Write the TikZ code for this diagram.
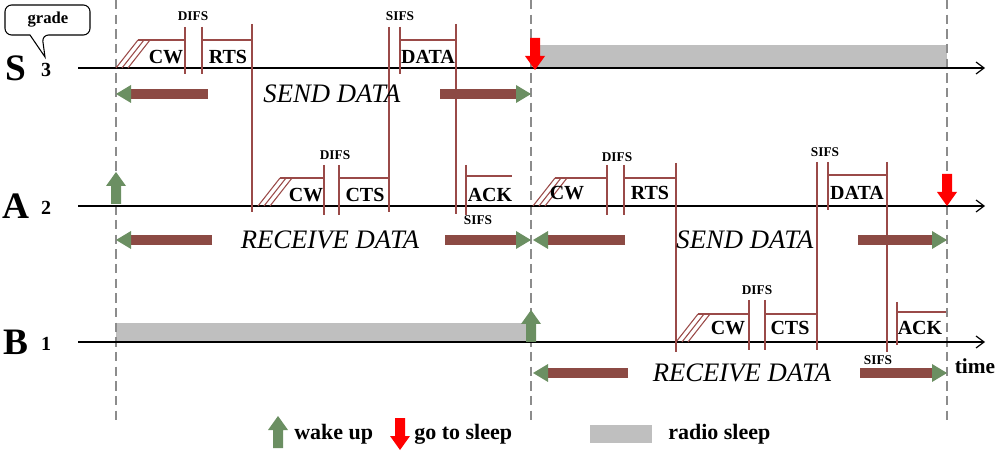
\documentclass[tikz,border=0pt]{standalone}
\usepackage{fontspec}
\setmainfont{Liberation Serif}
\usetikzlibrary{arrows.meta}
\begin{document}
\begin{tikzpicture}[x=0.75pt,y=-0.75pt,
  ax/.style={line width=0.9pt,-{Straight Barb[length=6pt,width=9pt]}},
  dsh/.style={draw=gray!90,line width=2.2pt,dash pattern=on 7pt off 4pt},
  lb/.style={font=\bfseries\fontsize{15}{15}\selectfont,inner sep=0pt},
  sm/.style={font=\bfseries\fontsize{10}{10}\selectfont,inner sep=0pt},
  it/.style={font=\itshape\fontsize{20}{20}\selectfont,inner sep=0pt},
  big/.style={font=\bfseries\fontsize{28}{28}\selectfont,inner sep=0pt},
  lg/.style={font=\bfseries\fontsize{16.5}{16.5}\selectfont,inner sep=0pt,anchor=west}]
\definecolor{brn}{HTML}{8C4A44}
\definecolor{grn}{HTML}{6B8F62}
\definecolor{tkc}{HTML}{9A4A48}
\tikzset{tk/.style={draw=tkc,line width=0.8pt}}
\useasboundingbox (0,0) rectangle (1000,452);
\newcommand\cwhatch[4]{% x0 yaxis xtopend ytop
  \foreach \d in {0,6,12}{\draw[tk] (#1+\d,#2) -- (#1+\d+22,#4);}
  \draw[tk] (#1+22,#4) -- (#3,#4);}
\newcommand\barrL[3]{% from x, to x (head), y
  \draw[brn,line width=7pt] (#1,#3) -- (#2+12,#3);
  \fill[grn] (#2,#3) -- (#2+15,#3-9) -- (#2+15,#3+9) -- cycle;}
\newcommand\barrR[3]{%
  \draw[brn,line width=7pt] (#1,#3) -- (#2-12,#3);
  \fill[grn] (#2,#3) -- (#2-15,#3-9) -- (#2-15,#3+9) -- cycle;}
\newcommand\uparr[3]{% x, ybottom, colour
  \fill[#3] (#1-5,#2) -- (#1-5,#2-18) -- (#1-10,#2-18) -- (#1,#2-32) -- (#1+10,#2-18) -- (#1+5,#2-18) -- (#1+5,#2) -- cycle;}
\newcommand\dnarr[3]{% x, ytop, colour
  \fill[#3] (#1-5,#2) -- (#1-5,#2+18) -- (#1-10,#2+18) -- (#1,#2+32) -- (#1+10,#2+18) -- (#1+5,#2+18) -- (#1+5,#2) -- cycle;}

% sleep bars
\fill[gray!50] (535,45) rectangle (947,68);
\fill[gray!50] (116,323) rectangle (531,342);

% dashed lines
\foreach \x in {116,531,947} \draw[dsh] (\x,0) -- (\x,420);

% axes
\draw[ax] (78,68) -- (985,68);
\draw[ax] (78,206) -- (985,206);
\draw[ax] (78,342) -- (985,342);
\node[big] (S) at (16,68) {S}; \node[lb] (S3) at (46,70) {3};
\node[big] (A) at (16,206) {A}; \node[lb] (A2) at (46,208) {2};
\node[big] (B) at (16,342) {B}; \node[lb] (B1) at (46,344) {1};
\node[lb,font=\bfseries\fontsize{16}{16}\selectfont] (time) at (975,366) {time};

% grade callout
\draw[line width=0.8pt,rounded corners=5pt] (18,35) -- (5,35) -- (5,5) -- (90,5) -- (90,35) -- (42,35) [sharp corners]-- (45,57) -- (30,35) [rounded corners=5pt]-- cycle;
\node[sm,font=\bfseries\fontsize{12.5}{12.5}\selectfont] (grade) at (48,20) {grade};

% ---- S row
\cwhatch{116}{68}{185}{40}
\draw[tk] (185,27) -- (185,74); \draw[tk] (202,27) -- (202,74);
\draw[tk] (202,40) -- (252,40); \draw[tk] (252,24) -- (252,212);
\draw[tk] (389,27) -- (389,212); \draw[tk] (400,27) -- (400,74);
\draw[tk] (400,40) -- (456,40); \draw[tk] (456,24) -- (456,214);
\node[sm] (d1) at (193,16) {DIFS};
\node[lb] (cw1) at (166,57) {CW};
\node[lb] (rts1) at (228,57) {RTS};
\node[sm] (s1) at (400,16) {SIFS};
\node[lb] (data1) at (428,57) {DATA};
\barrL{208}{116}{94} \barrR{440}{531}{94}
\node[it] (send1) at (332,94) {SEND DATA};
\dnarr{535}{38}{red}

% ---- A row
\cwhatch{258}{206}{324}{178}
\draw[tk] (324,165) -- (324,215); \draw[tk] (339,165) -- (339,215);
\draw[tk] (339,178) -- (389,178);
\draw[tk] (466,165) -- (466,215); \draw[tk] (466,176) -- (512,176);
\node[sm] (d2) at (335,155) {DIFS};
\node[lb] (cw2) at (306,195) {CW};
\node[lb] (cts2) at (365,195) {CTS};
\node[lb] (ack2) at (490,195) {ACK};
\node[sm] (s2) at (478,220) {SIFS};
\uparr{116}{204}{grn}
\barrL{212}{116}{240} \barrR{445}{531}{240}
\node[it] (recv1) at (330,240) {RECEIVE DATA};

\cwhatch{533}{206}{607}{178}
\draw[tk] (607,165) -- (607,215); \draw[tk] (624,165) -- (624,215);
\draw[tk] (624,178) -- (676,178); \draw[tk] (676,163) -- (676,352);
\draw[tk] (817,162) -- (817,350); \draw[tk] (828,162) -- (828,210);
\draw[tk] (828,175) -- (887,175); \draw[tk] (887,162) -- (887,352);
\node[sm] (d3) at (617,157) {DIFS};
\node[lb] (cw3) at (567,193) {CW};
\node[lb] (rts3) at (650,193) {RTS};
\node[sm] (s3) at (825,152) {SIFS};
\node[lb] (data3) at (857,193) {DATA};
\dnarr{947}{174}{red}
\barrL{625}{533}{240} \barrR{858}{947}{240}
\node[it] (send2) at (745,240) {SEND DATA};

% ---- B row
\cwhatch{676}{342}{749}{314}
\draw[tk] (749,300) -- (749,350); \draw[tk] (765,300) -- (765,350);
\draw[tk] (765,314) -- (817,314);
\draw[tk] (897,302) -- (897,345); \draw[tk] (897,312) -- (946,312);
\node[sm] (d4) at (757,290) {DIFS};
\node[lb] (cw4) at (728,328) {CW};
\node[lb] (cts4) at (790,328) {CTS};
\node[lb] (ack4) at (920,328) {ACK};
\node[sm] (s4) at (878,360) {SIFS};
\uparr{531}{342}{grn}
\barrL{628}{533}{373} \barrR{860}{947}{373}
\node[it] (recv2) at (742,373) {RECEIVE DATA};

% ---- legend
\uparr{278}{448}{grn}
\node[lg] (wk) at (294,434) {wake up};
\dnarr{400}{418}{red}
\node[lg] (gs) at (414,434) {go to sleep};
\fill[gray!50] (590,425) rectangle (652,443);
\node[lg] (rs) at (668,434) {radio sleep};
\end{tikzpicture}
\end{document}
